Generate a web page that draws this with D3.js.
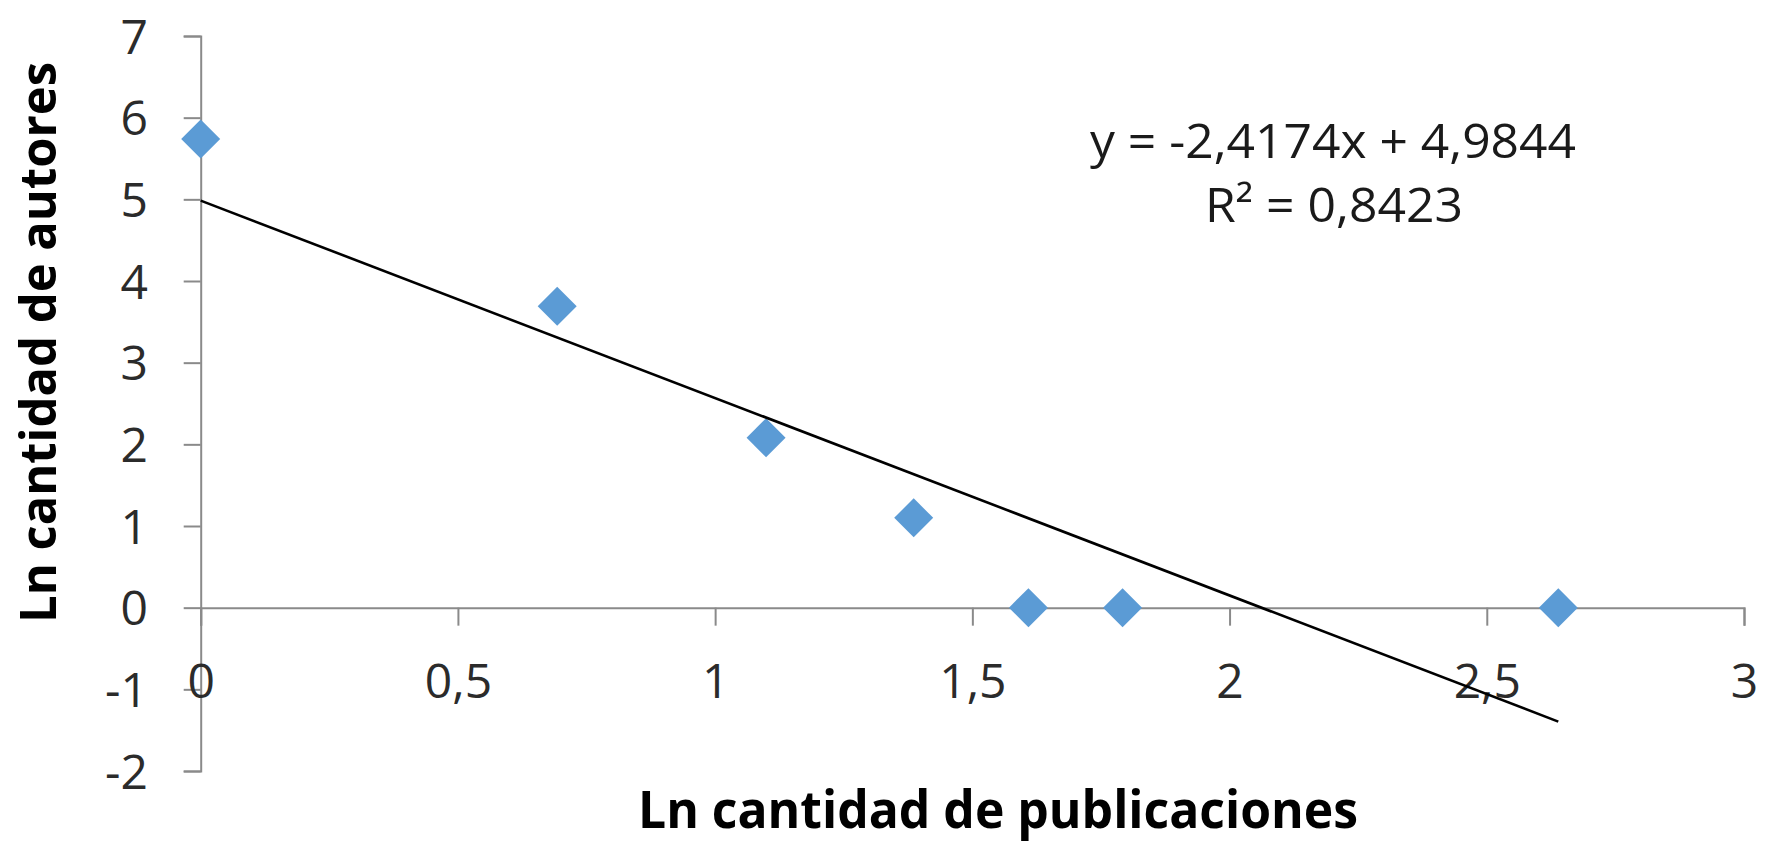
<!DOCTYPE html>
<html>
<head>
<meta charset="utf-8">
<script src="https://cdn.jsdelivr.net/npm/d3@7"></script>
<style>
  html, body { margin: 0; padding: 0; background: #fff; }
  svg { display: block; }
</style>
</head>
<body>
<svg id="chart" width="1783" height="844"></svg>
<script>
// ---- data ----
const xValues = [0, 0.693, 1.099, 1.386, 1.609, 1.792, 2.639];
const yValues = [5.74, 3.69, 2.08, 1.10, 0, 0, 0];
const xTicks = [0, 0.5, 1, 1.5, 2, 2.5, 3];
const yTicks = [-2, -1, 0, 1, 2, 3, 4, 5, 6, 7];
const trendSlope = -2.4174;
const trendIntercept = 4.9844;
const equationText = "y = -2,4174x + 4,9844";
const r2Text = "R² = 0,8423";
const xTitle = "Ln cantidad de publicaciones";
const yTitle = "Ln cantidad de autores";

// ---- layout ----
const svg = d3.select("#chart");
const x = d3.scaleLinear().domain([0, 3]).range([200.7, 1744]);
const y = d3.scaleLinear().domain([-2, 7]).range([771, 36]);
const fmt = d => String(d).replace(".", ",");
const tickFont = "'Liberation Sans Narrow', 'Open Sans', sans-serif";
const axisColor = "#8a8a8a";

// Y axis
const gy = svg.append("g").attr("transform", `translate(${x(0)},0)`)
  .call(d3.axisLeft(y).tickValues(yTicks).tickSize(17).tickSizeOuter(17).tickPadding(0).tickFormat(fmt));
gy.select(".domain").attr("stroke", axisColor).attr("stroke-width", 2);
gy.selectAll(".tick line").attr("stroke", axisColor).attr("stroke-width", 2);
gy.selectAll(".tick text")
  .attr("x", -52.7).attr("dy", "0.36em")
  .attr("fill", "#2b2b2b")
  .style("font-family", tickFont).style("font-size", "48px");

// X axis at y = 0
const gx = svg.append("g").attr("transform", `translate(0,${y(0)})`)
  .call(d3.axisBottom(x).tickValues(xTicks).tickSize(18).tickSizeOuter(18).tickFormat(fmt));
gx.select(".domain").attr("stroke", axisColor).attr("stroke-width", 2);
gx.selectAll(".tick line").attr("stroke", axisColor).attr("stroke-width", 2);
gx.selectAll(".tick text")
  .attr("y", 90).attr("dy", 0)
  .attr("fill", "#2b2b2b")
  .style("font-family", tickFont).style("font-size", "48px");

// Data points (diamonds)
const pts = xValues.map((v, i) => ({ x: v, y: yValues[i] }));
const diamond = d3.symbol(d3.symbolSquare, 760);
svg.append("g").selectAll("path").data(pts).join("path")
  .attr("d", diamond)
  .attr("transform", d => `translate(${x(d.x)},${y(d.y)}) rotate(45)`)
  .attr("fill", "#5b9bd5");

// Trend line
const xEnd = d3.max(xValues);
const trend = [0, xEnd].map(v => ({ x: v, y: trendSlope * v + trendIntercept }));
svg.append("path")
  .datum(trend)
  .attr("d", d3.line().x(d => x(d.x)).y(d => y(d.y)))
  .attr("fill", "none").attr("stroke", "#000").attr("stroke-width", 2.6);

// Equation labels
const eqFont = "'Open Sans', sans-serif";
svg.append("text")
  .attr("x", 1090).attr("y", 158)
  .attr("textLength", 486).attr("lengthAdjust", "spacingAndGlyphs")
  .style("font-family", eqFont).style("font-size", "47px").attr("fill", "#1a1a1a")
  .text(equationText);
svg.append("text")
  .attr("x", 1205).attr("y", 222)
  .attr("textLength", 258).attr("lengthAdjust", "spacingAndGlyphs")
  .style("font-family", eqFont).style("font-size", "47px").attr("fill", "#1a1a1a")
  .text(r2Text);

// Axis titles
svg.append("text")
  .attr("x", 638).attr("y", 828)
  .attr("textLength", 720).attr("lengthAdjust", "spacingAndGlyphs")
  .style("font-family", "'Open Sans', sans-serif").style("font-weight", "bold").style("font-size", "52px")
  .attr("fill", "#000")
  .text(xTitle);
svg.append("text")
  .attr("transform", "translate(56,623) rotate(-90)")
  .attr("x", 0).attr("y", 0)
  .attr("textLength", 561).attr("lengthAdjust", "spacingAndGlyphs")
  .style("font-family", "'Open Sans', sans-serif").style("font-weight", "bold").style("font-size", "50px")
  .attr("fill", "#000")
  .text(yTitle);
</script>
</body>
</html>
